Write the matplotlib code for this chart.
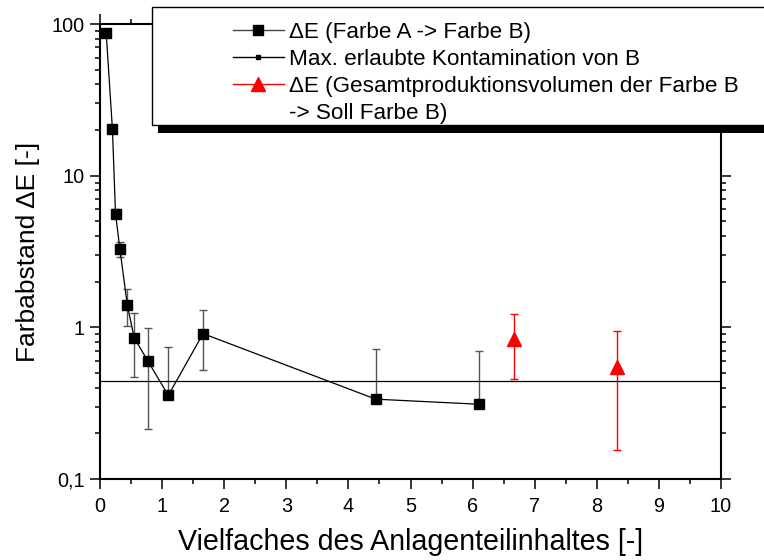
#!/usr/bin/env python3

# Colour distance after product change, log scale, with contamination limit.

import numpy as np
import matplotlib.pyplot as plt
from matplotlib.lines import Line2D
from matplotlib.patches import Rectangle
from matplotlib.ticker import MultipleLocator, LogLocator, NullFormatter, FuncFormatter

plt.rcParams['font.family'] = ['Liberation Sans', 'DejaVu Sans']

# Farbe A -> Farbe B
vielfaches = [0.10, 0.20, 0.25, 0.32, 0.44, 0.55, 0.77, 1.10, 1.66, 4.44, 6.11]
delta_e = [86.9, 20.3, 5.61, 3.29, 1.40, 0.855, 0.60, 0.356, 0.909, 0.336, 0.311]
delta_e_err = [0.385, 0.385, 0.385, 0.385, 0.385, 0.385, 0.385, 0.39, 0.385, 0.385, 0.39]

# Gesamtproduktionsvolumen der Farbe B -> Soll Farbe B
vielfaches_soll = [6.67, 8.33]
delta_e_soll = [0.838, 0.551]
delta_e_soll_err = [0.385, 0.395]

MAX_KONTAMINATION = 0.44

W, H = 764, 560
fig = plt.figure(figsize=(W / 100, H / 100), dpi=100)
ax = fig.add_axes([100 / W, 1 - 479 / H, 621 / W, 455 / H])


def log_err(y, err):
    # lower bar is dropped where it would go below zero
    y = np.asarray(y)
    err = np.asarray(err)
    lower = np.where(y - err > 0, err, 0)
    return [lower, err]


ax.errorbar(vielfaches, delta_e, yerr=log_err(delta_e, delta_e_err),
            fmt='none', ecolor='#555555', elinewidth=1, capsize=3.2, capthick=1, zorder=2)
ax.plot(vielfaches, delta_e, color='black', lw=0.9, marker='s', ms=7.2,
        mfc='black', mec='black', zorder=3)

ax.axhline(MAX_KONTAMINATION, color='black', lw=0.9, zorder=2)

ax.errorbar(vielfaches_soll, delta_e_soll, yerr=log_err(delta_e_soll, delta_e_soll_err),
            fmt='none', ecolor='red', elinewidth=1, capsize=3.2, capthick=1, zorder=2)
ax.plot(vielfaches_soll, delta_e_soll, ls='none', marker='^', ms=9.4,
        mfc='red', mec='red', zorder=3)

ax.set_yscale('log')
ax.set_xlim(0, 10)
ax.set_ylim(0.1, 100)

ax.xaxis.set_major_locator(MultipleLocator(1))
ax.xaxis.set_minor_locator(MultipleLocator(0.5))
ax.yaxis.set_major_locator(LogLocator(base=10))
ax.yaxis.set_minor_locator(LogLocator(base=10, subs=np.arange(2, 10)))
ax.yaxis.set_minor_formatter(NullFormatter())
ax.yaxis.set_major_formatter(FuncFormatter(lambda v, p: f"{v:g}".replace('.', ',')))

ax.tick_params(which='both', direction='out', top=True, right=True,
               width=1.1, labelsize=14.3)
ax.tick_params(which='major', length=7.2, pad=4)
ax.tick_params(axis='x', which='major', pad=5.5)
ax.tick_params(which='minor', length=3.6)
for sp in ax.spines.values():
    sp.set_linewidth(1.5)

ax.set_xlabel("Vielfaches des Anlagenteilinhaltes [-]", fontsize=20.6, labelpad=9)
ax.set_ylabel("Farbabstand ΔE [-]", fontsize=19, labelpad=8)

# legend box with a solid shadow, running off the right edge
fig.add_artist(Rectangle((158 / W, 1 - 133 / H), 700 / W, 10 / H,
                         transform=fig.transFigure, fc='black', ec='none', zorder=3))
fig.add_artist(Rectangle((152 / W, 1 - 125 / H), 700 / W, 118 / H,
                         transform=fig.transFigure, fc='white', ec='black', lw=1, zorder=4))

handles = [
    Line2D([], [], color='#444444', lw=1, marker='s', ms=7.2, mfc='black', mec='black'),
    Line2D([], [], color='black', lw=1, marker='s', ms=3, mfc='black', mec='black'),
    Line2D([], [], color='red', lw=1, marker='^', ms=9.4, mfc='red', mec='red'),
    Line2D([], [], color='none'),
]
labels = [
    "ΔE (Farbe A -> Farbe B)",
    "Max. erlaubte Kontamination von B",
    "ΔE (Gesamtproduktionsvolumen der Farbe B",
    "-> Soll Farbe B)",
]
fig.legend(handles, labels, loc='upper left', bbox_to_anchor=(233 / W, 1 - 22 / H),
           bbox_transform=fig.transFigure, frameon=False, fontsize=16.2,
           borderpad=0, borderaxespad=0, handlelength=2.25, handletextpad=0.25,
           labelspacing=0.26)

plt.savefig("out.png", dpi=100)
plt.close()
